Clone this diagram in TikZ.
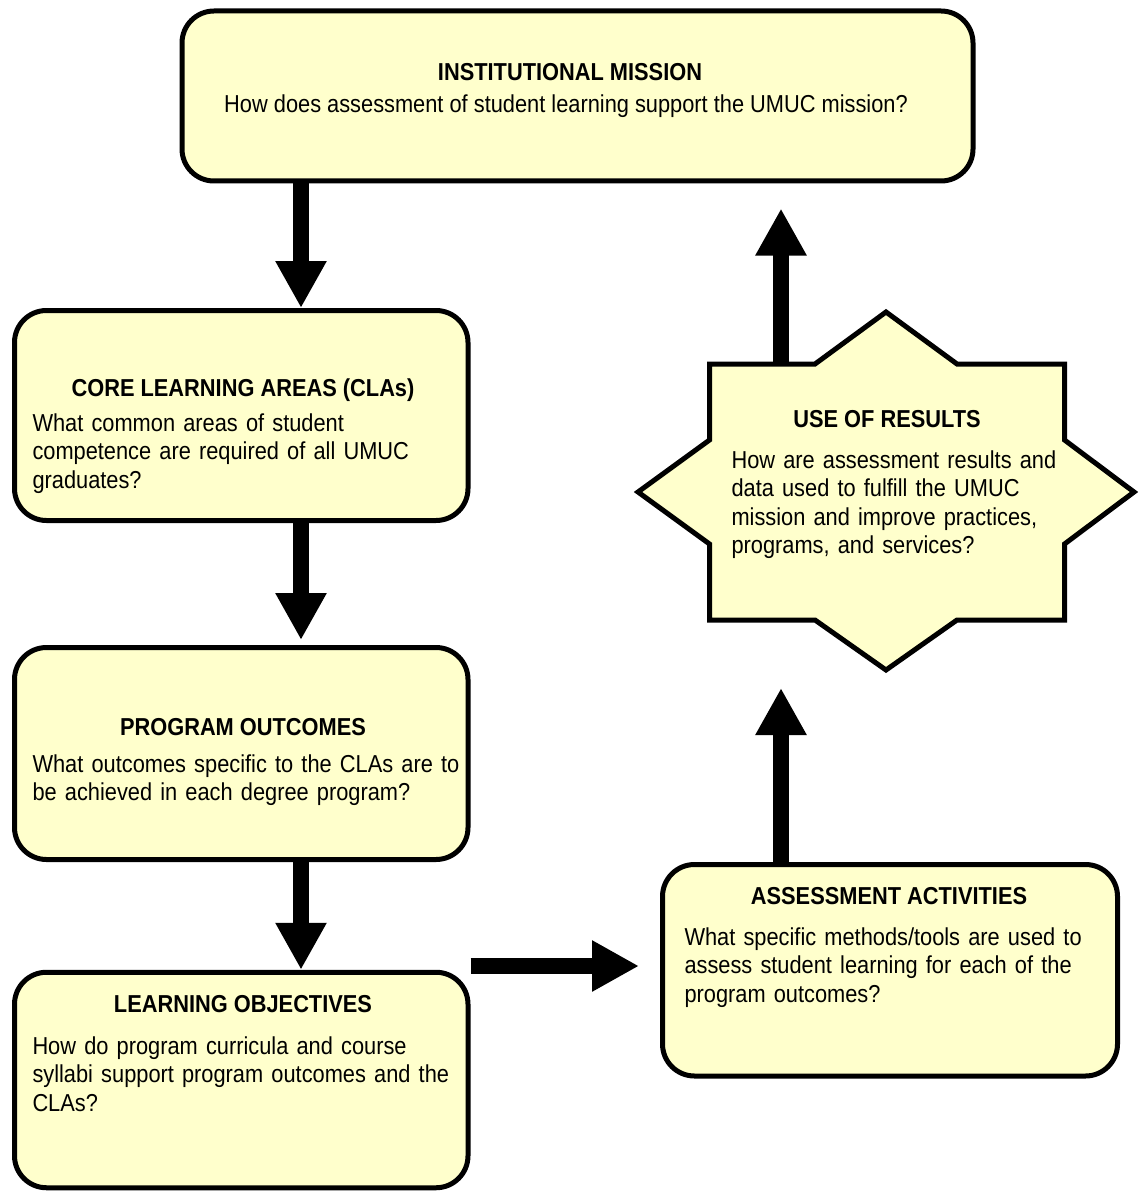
\documentclass[tikz,border=0pt]{standalone}
\usepackage{fontspec}
\setmainfont{Liberation Sans}[FakeStretch=0.89]
\usetikzlibrary{arrows.meta,calc}

\definecolor{boxfill}{HTML}{FFFFCC}

\tikzset{every picture/.style={line width=5pt}}
\tikzset{
  box/.style={draw=black, fill=boxfill, line width=5pt, rounded corners=32pt, inner sep=0pt},
  flow/.style={line width=16pt, -{Triangle[width=48pt,length=47pt]}},
  ttl/.style={font=\bfseries\fontsize{24.5}{28.5}\selectfont, inner sep=0pt, anchor=base},
  qst/.style={font=\fontsize{24.5}{28.5}\selectfont, inner sep=0pt, anchor=base west, text width=440pt, align=left}
}

\begin{document}
\begin{tikzpicture}[x=1pt,y=1pt,yscale=-1]
\useasboundingbox (0,0) rectangle (1139,1198);

%Rounded Rect [id:mission]
\node[box, minimum width=791pt, minimum height=170pt] (mission) at (577.5,96) {};
%Rounded Rect [id:cla]
\node[box, minimum width=453.5pt, minimum height=210pt] (cla) at (241.25,415.5) {};
%Rounded Rect [id:po]
\node[box, minimum width=453.5pt, minimum height=212pt] (po) at (241.25,753.5) {};
%Rounded Rect [id:lo]
\node[box, minimum width=453.5pt, minimum height=215.5pt] (lo) at (241.25,1080) {};
%Rounded Rect [id:aa]
\node[box, minimum width=455pt, minimum height=211.5pt] (aa) at (890,970.25) {};

%Shape: Star [id:results]
\draw[fill=boxfill, line join=miter] (638,492) -- (709.5,440) -- (709.5,364) -- (815,364) -- (886,312)
  -- (957,364) -- (1064.5,364) -- (1064.5,440) -- (1134,492) -- (1064.5,544) -- (1064.5,620)
  -- (957,620) -- (886,670) -- (815,620) -- (709.5,620) -- (709.5,544) -- cycle;
\node[inner sep=0pt, outer sep=0pt, minimum width=355pt, minimum height=256pt] (res) at (887,492) {};

%Arrow columns
\coordinate (lcol) at (301,0);
\coordinate (rcol) at (781,0);
\coordinate (hrow) at (0,966);

%Block Arrows
\draw[flow] (mission.south -| lcol) -- (cla.north -| lcol);
\draw[flow, shorten >=5pt] (cla.south -| lcol) -- (po.north -| lcol);
\draw[flow] (po.south -| lcol) -- (lo.north -| lcol);
\draw[flow, shorten >=21pt] (lo.east |- hrow) -- (aa.west |- hrow);
\draw[flow, shorten >=68pt] (aa.north -| rcol) -- (res.south -| rcol);
\draw[flow, shorten >=25pt] (res.north -| rcol) -- (mission.south -| rcol);

% Text Node
\node[ttl] (missionT) at (570,81) {INSTITUTIONAL MISSION};
% Text Node
\node[qst, anchor=base, text width=, align=center] (missionQ) at (566,113) {How does assessment of student learning support the UMUC mission?};
% Text Node
\node[ttl] (claT) at (243,396) {CORE LEARNING AREAS (CLAs)};
% Text Node
\node[qst] (claQ) at (30,431) {What common areas of student\\competence are required of all UMUC\\graduates?};
% Text Node
\node[ttl] (poT) at (243,735) {PROGRAM OUTCOMES};
% Text Node
\node[qst] (poQ) at (30,772) {What outcomes specific to the CLAs are to\\be achieved in each degree program?};
% Text Node
\node[ttl] (loT) at (243,1012) {LEARNING OBJECTIVES};
% Text Node
\node[qst] (loQ) at (30,1054) {How do program curricula and course\\syllabi support program outcomes and the\\CLAs?};
% Text Node
\node[ttl] (aaT) at (889,904) {ASSESSMENT ACTIVITIES};
% Text Node
\node[qst] (aaQ) at (682,945) {What specific methods/tools are used to\\assess student learning for each of the\\program outcomes?};
% Text Node
\node[ttl] (resT) at (887,427) {USE OF RESULTS};
% Text Node
\node[qst] (resQ) at (729,468) {How are assessment results and\\data used to fulfill the UMUC\\mission and improve practices,\\programs, and services?};

\end{tikzpicture}
\end{document}
